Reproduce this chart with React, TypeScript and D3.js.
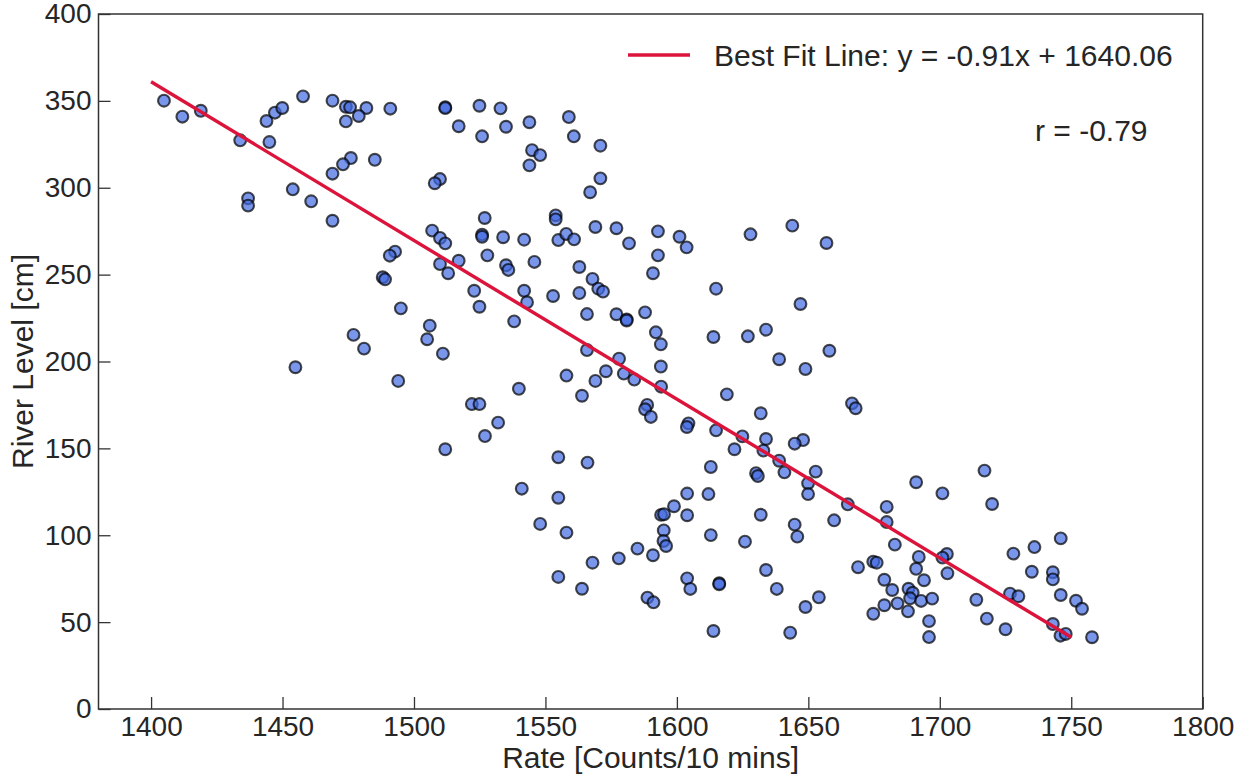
import * as d3 from "d3";
import { useEffect, useRef } from "react";

// Rate [Counts/10 mins] vs River Level [cm]
const rate = [
  1404.9, 1411.9, 1418.9, 1433.9, 1445.0, 1443.9, 1447.1, 1449.9, 1457.8, 1469.0,
  1474.1, 1475.7, 1481.9, 1479.0, 1474.1, 1491.0, 1476.0, 1473.0, 1469.0, 1485.1,
  1453.9, 1460.9, 1436.9, 1436.9, 1469.0, 1492.8, 1490.8, 1488.1, 1489.0, 1495.0,
  1477.0, 1481.0, 1454.9, 1494.0,
  1511.9, 1511.9, 1524.9, 1532.9, 1517.0, 1525.9, 1535.0, 1543.9, 1558.9, 1560.8,
  1570.9, 1544.9, 1548.0, 1543.9, 1570.9, 1567.0, 1509.9, 1507.9, 1526.9, 1553.9,
  1553.9, 1506.9, 1509.9, 1511.9, 1525.9, 1525.9, 1533.9, 1541.9, 1554.9, 1557.9,
  1560.9, 1569.0, 1577.0, 1581.8, 1592.8, 1601.0, 1603.7, 1592.8, 1590.9, 1509.9,
  1517.0, 1513.0, 1527.9, 1535.0, 1535.9, 1545.8, 1562.9, 1567.9, 1570.1, 1571.9,
  1522.9, 1524.9, 1541.9, 1543.0, 1552.9, 1562.9, 1565.8, 1577.0, 1580.9, 1580.9,
  1587.9, 1592.0, 1593.9, 1538.1, 1506.0, 1505.0, 1511.0, 1565.8, 1578.0, 1593.9,
  1558.0, 1569.0, 1573.0, 1579.8, 1583.8,
  1628.0, 1643.9, 1656.9, 1614.9, 1647.0, 1613.9, 1627.0, 1633.9, 1638.9, 1648.9,
  1658.0,
  1563.9, 1594.0, 1539.9, 1522.0, 1524.9, 1532.0, 1527.0, 1511.9, 1588.7, 1587.9,
  1590.1, 1604.4, 1603.8, 1554.9, 1566.0, 1541.0, 1554.9, 1548.0, 1558.0, 1603.9,
  1598.9, 1594.0, 1595.1, 1603.9, 1595.0, 1594.9, 1595.9, 1585.0, 1590.9, 1577.9,
  1567.9, 1554.9, 1563.9, 1588.8, 1591.1, 1603.9, 1605.1,
  1619.0, 1666.6, 1668.0, 1631.9, 1614.9, 1624.9, 1633.9, 1621.9, 1632.9, 1648.0,
  1644.8, 1638.9, 1640.9, 1652.8, 1630.1, 1630.8, 1612.9, 1649.9, 1649.9, 1612.0,
  1691.0, 1701.0, 1665.0, 1679.8, 1631.9, 1659.8, 1679.8, 1644.8, 1645.8, 1612.9,
  1625.9, 1682.9, 1702.7, 1701.0, 1692.0, 1691.0, 1674.7, 1676.0, 1668.9, 1702.9,
  1633.9, 1616.1, 1616.1, 1638.0, 1678.9, 1681.9, 1694.0, 1688.1, 1689.7, 1688.7,
  1692.9, 1697.1, 1683.9, 1678.9, 1674.7, 1687.9, 1654.0, 1648.9, 1695.9, 1695.9,
  1613.9, 1643.1,
  1717.0, 1719.9, 1728.0, 1736.0, 1746.0, 1735.0, 1743.0, 1743.0, 1726.7, 1729.9,
  1713.9, 1746.0, 1751.8, 1754.1, 1717.9, 1725.0, 1743.0, 1745.9, 1747.9, 1757.9,
];

const riverLevel = [
  350.1, 340.9, 344.3, 327.3, 326.3, 338.4, 343.2, 345.9, 352.6, 350.1,
  346.6, 346.3, 345.9, 341.3, 338.2, 345.5, 317.1, 313.5, 308.1, 316.1,
  299.1, 292.2, 293.9, 289.7, 281.0, 263.2, 260.9, 248.5, 247.3, 230.6,
  215.3, 207.4, 196.7, 188.8,
  346.4, 345.8, 347.2, 345.7, 335.4, 329.6, 335.1, 337.7, 340.7, 329.6,
  324.2, 321.6, 318.8, 312.9, 305.4, 297.4, 305.0, 302.6, 282.6, 284.1,
  281.8, 275.3, 271.1, 268.0, 273.0, 271.8, 271.5, 270.1, 269.9, 273.4,
  270.3, 277.4, 276.7, 268.0, 274.9, 271.8, 265.7, 261.1, 250.8, 256.1,
  258.0, 250.8, 261.1, 255.4, 252.7, 257.3, 254.4, 247.5, 241.9, 240.2,
  240.7, 231.5, 240.7, 234.1, 237.7, 239.4, 227.3, 227.2, 224.2, 223.6,
  228.3, 216.8, 209.9, 223.1, 220.6, 212.8, 204.5, 206.6, 201.6, 197.1,
  191.9, 188.8, 194.4, 193.0, 189.6,
  273.2, 278.2, 268.2, 241.9, 233.1, 214.1, 214.5, 218.3, 201.3, 195.7,
  206.2,
  180.3, 185.5, 184.3, 175.5, 175.5, 164.8, 157.1, 149.5, 175.0, 172.5,
  168.1, 164.4, 162.3, 144.9, 141.8, 126.8, 121.6, 106.5, 101.5, 124.0,
  116.7, 111.7, 112.1, 111.5, 102.8, 96.7, 93.8, 92.3, 88.5, 86.7,
  84.2, 76.0, 69.2, 64.1, 61.4, 75.2, 69.1,
  181.1, 175.9, 173.1, 170.2, 160.4, 156.9, 155.4, 149.5, 148.7, 154.8,
  152.7, 142.9, 136.2, 136.6, 135.7, 134.1, 139.3, 129.9, 123.7, 123.7,
  130.5, 124.1, 117.8, 116.3, 111.8, 108.6, 107.6, 106.1, 99.2, 100.1,
  96.3, 94.6, 89.2, 87.1, 87.5, 80.7, 84.8, 84.2, 81.6, 78.1,
  80.0, 72.4, 71.8, 69.1, 74.4, 68.5, 74.1, 69.2, 66.9, 63.7,
  62.2, 63.5, 60.8, 59.7, 54.8, 56.2, 64.3, 58.7, 50.6, 41.4,
  44.9, 43.9,
  137.2, 118.0, 89.4, 93.2, 98.2, 79.0, 78.7, 74.6, 66.4, 64.9,
  62.9, 65.6, 62.3, 57.7, 52.0, 45.9, 48.9, 42.2, 43.2, 41.3,
];

const xTicks = [1400, 1450, 1500, 1550, 1600, 1650, 1700, 1750, 1800];
const yTicks = [0, 50, 100, 150, 200, 250, 300, 350, 400];
const xDomain = [1380, 1800];
const yDomain = [0, 400];

const fitSlope = -0.9136;
const fitIntercept = 1640.06;
const fitRange = [1400, 1750];

const legendLabel = "Best Fit Line: y = -0.91x + 1640.06";
const rLabel = "r = -0.79";
const xLabel = "Rate [Counts/10 mins]";
const yLabel = "River Level [cm]";

const FONT = "'Liberation Sans', Arial, Helvetica, sans-serif";

function App() {
  const ref = useRef<SVGSVGElement>(null);

  useEffect(() => {
    const width = 1248;
    const height = 778;
    const margin = { top: 14, right: 45.3, bottom: 69, left: 98.5 };

    const svg = d3.select(ref.current);
    svg.selectAll("*").remove();
    svg.attr("width", width).attr("height", height);

    const xScale = d3
      .scaleLinear()
      .domain(xDomain)
      .range([margin.left, width - margin.right]);
    const yScale = d3
      .scaleLinear()
      .domain(yDomain)
      .range([height - margin.bottom, margin.top]);

    const points = rate.map((r, i) => ({ x: r, y: riverLevel[i] }));

    // scatter
    svg
      .append("g")
      .selectAll("circle")
      .data(points)
      .enter()
      .append("circle")
      .attr("cx", (d) => xScale(d.x))
      .attr("cy", (d) => yScale(d.y))
      .attr("r", 5.9)
      .attr("fill", "royalblue")
      .attr("fill-opacity", 0.7)
      .attr("stroke", "black")
      .attr("stroke-opacity", 0.7)
      .attr("stroke-width", 2.1);

    // best fit line
    const line = d3
      .line<number>()
      .x((d) => xScale(d))
      .y((d) => yScale(fitSlope * d + fitIntercept));
    svg
      .append("path")
      .datum(fitRange)
      .attr("d", line)
      .attr("fill", "none")
      .attr("stroke", "crimson")
      .attr("stroke-width", 3.4);

    // axes, ticks pointing in
    const xAxis = d3
      .axisBottom(xScale)
      .tickValues(xTicks)
      .tickFormat(d3.format("d"))
      .tickSizeInner(-12)
      .tickSizeOuter(0)
      .tickPadding(7);
    const yAxis = d3
      .axisLeft(yScale)
      .tickValues(yTicks)
      .tickFormat(d3.format("d"))
      .tickSizeInner(-12)
      .tickSizeOuter(0)
      .tickPadding(7);

    const gx = svg
      .append("g")
      .attr("transform", `translate(0,${height - margin.bottom})`)
      .call(xAxis);
    const gy = svg
      .append("g")
      .attr("transform", `translate(${margin.left},0)`)
      .call(yAxis);

    [gx, gy].forEach((g) => {
      g.select(".domain").remove();
      g.attr("font-family", FONT).attr("font-size", 28);
      g.selectAll(".tick line").attr("stroke", "#333").attr("stroke-width", 1.3);
      g.selectAll(".tick text").attr("fill", "#262626");
    });

    // frame
    svg
      .append("rect")
      .attr("x", margin.left)
      .attr("y", margin.top)
      .attr("width", width - margin.left - margin.right)
      .attr("height", height - margin.top - margin.bottom)
      .attr("fill", "none")
      .attr("stroke", "#333")
      .attr("stroke-width", 1.5);

    // axis labels
    svg
      .append("text")
      .text(xLabel)
      .attr("x", (margin.left + width - margin.right) / 2)
      .attr("y", 768)
      .attr("text-anchor", "middle")
      .attr("font-family", FONT)
      .attr("font-size", 30)
      .attr("fill", "#262626");
    svg
      .append("text")
      .text(yLabel)
      .attr(
        "transform",
        `translate(33,${(margin.top + height - margin.bottom) / 2}) rotate(-90)`
      )
      .attr("text-anchor", "middle")
      .attr("font-family", FONT)
      .attr("font-size", 30)
      .attr("fill", "#262626");

    // legend
    const legend = svg.append("g").attr("font-family", FONT).attr("font-size", 30);
    legend
      .append("line")
      .attr("x1", 628)
      .attr("x2", 690)
      .attr("y1", 55)
      .attr("y2", 55)
      .attr("stroke", "crimson")
      .attr("stroke-width", 3.4);
    legend
      .append("text")
      .text(legendLabel)
      .attr("x", 714)
      .attr("y", 66)
      .attr("fill", "#262626");
    legend
      .append("text")
      .text(rLabel)
      .attr("x", 1035)
      .attr("y", 141)
      .attr("fill", "#262626");
  }, []);

  return (
    <div style={{ position: "absolute", left: 0, top: 0 }}>
      <svg ref={ref}></svg>
    </div>
  );
}

export default App;
